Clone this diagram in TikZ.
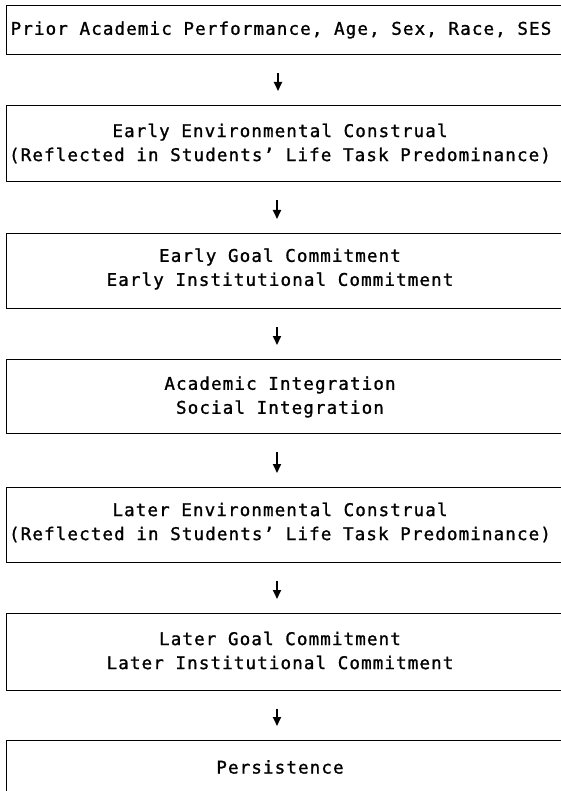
\documentclass[tikz,border=0pt]{standalone}
\usepackage{fontspec}
\usetikzlibrary{arrows.meta}
\newfontfamily\boxfont[LetterSpace=6.5,FakeBold=1.2]{DejaVu Sans Mono}
\begin{document}
\begin{tikzpicture}[x=1pt,y=-1pt,
  box/.style={draw, line width=1.1pt, minimum width=564pt, inner sep=0pt, anchor=north west},
  lbl/.style={font=\boxfont\fontsize{17.5}{24}\selectfont, align=center, inner sep=0pt},
  arr/.style={line width=1.8pt, -{Triangle[width=8pt,length=9pt]}, shorten <=18pt, shorten >=14pt}]
\useasboundingbox (0,0) rectangle (561,791);
\clip (0,0) rectangle (561,791);
\fill[white] (0,0) rectangle (561,791);
% boxes
\node[box, minimum height=49pt] (b1) at (6,5) {};
\node[box, minimum height=76pt] (b2) at (6,105) {};
\node[box, minimum height=75pt] (b3) at (6,233) {};
\node[box, minimum height=74pt] (b4) at (6,359) {};
\node[box, minimum height=75pt] (b5) at (6,487) {};
\node[box, minimum height=77pt] (b6) at (6,613) {};
\node[box, minimum height=76pt] (b7) at (6,740) {};
% texts
\node[lbl] (t1) at (281,30) {Prior Academic Performance, Age, Sex, Race, SES};
\node[lbl] (t2) at (280,143.5) {Early Environmental Construal\\(Reflected in Students’ Life Task Predominance)};
\node[lbl] (t3) at (280,269) {Early Goal Commitment\\Early Institutional Commitment};
\node[lbl] (t4) at (280,397) {Academic Integration\\Social Integration};
\node[lbl] (t5) at (280,522.5) {Later Environmental Construal\\(Reflected in Students’ Life Task Predominance)};
\node[lbl] (t6) at (280,650.5) {Later Goal Commitment\\Later Institutional Commitment};
\node[lbl] (t7) at (280,767) {Persistence};
% arrows
\draw[arr] ([xshift=-3pt]t1 |- b1.south) -- ([xshift=-3pt]t1 |- b2.north);
\draw[arr] ([xshift=-3pt]t2 |- b2.south) -- ([xshift=-3pt]t2 |- b3.north);
\draw[arr] ([xshift=-3pt]t3 |- b3.south) -- ([xshift=-3pt]t3 |- b4.north);
\draw[arr] ([xshift=-3pt]t4 |- b4.south) -- ([xshift=-3pt]t4 |- b5.north);
\draw[arr] ([xshift=-3pt]t5 |- b5.south) -- ([xshift=-3pt]t5 |- b6.north);
\draw[arr] ([xshift=-3pt]t6 |- b6.south) -- ([xshift=-3pt]t6 |- b7.north);
\end{tikzpicture}
\end{document}
